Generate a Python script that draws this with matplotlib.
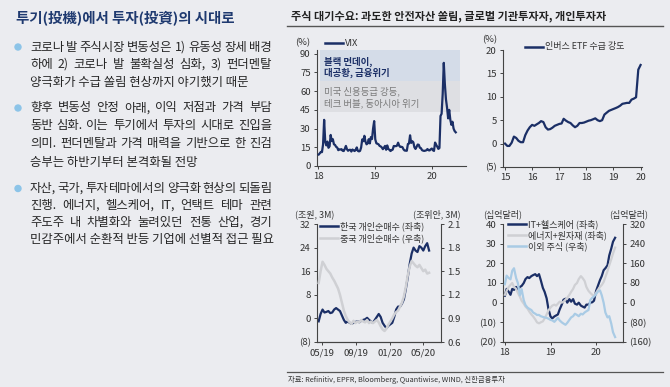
import matplotlib
matplotlib.use("Agg")
import matplotlib.pyplot as plt
from matplotlib.lines import Line2D
from matplotlib.patches import Ellipse, Rectangle
from matplotlib.ticker import FuncFormatter
import pandas as pd

plt.rcParams["font.family"] = ["Noto Sans CJK KR", "DejaVu Sans"]

W, H = 670, 387
BG = "#ebecf0"
NAVY = "#1b2f66"
GRAY_LINE = "#cfd0d4"
LIGHT_BLUE = "#a9cbe5"
TXT = "#333333"

# ---- data -------------------------------------------------------------
title = "투기(投機)에서 투자(投資)의 시대로"
paragraphs = [
    ["코로나 발 주식시장 변동성은 1) 유동성 장세 배경",
     "하에 2) 코로나 발 불확실성 심화, 3) 펀더멘탈",
     "양극화가 수급 쏠림 현상까지 야기했기 때문"],
    ["향후 변동성 안정 아래, 이익 저점과 가격 부담",
     "동반 심화. 이는 투기에서 투자의 시대로 진입을",
     "의미. 펀더멘탈과 가격 매력을 기반으로 한 진검",
     "승부는 하반기부터 본격화될 전망"],
    ["자산, 국가, 투자 테마에서의 양극화 현상의 되돌림",
     "진행. 에너지, 헬스케어, IT, 언택트 테마 관련",
     "주도주 내 차별화와 눌려있던 전통 산업, 경기",
     "민감주에서 순환적 반등 기업에 선별적 접근 필요"],
]
panel_title = "주식 대기수요: 과도한 안전자산 쏠림, 글로벌 기관투자자, 개인투자자"
source = "자료: Refinitiv, EPFR, Bloomberg, Quantiwise, WIND, 신한금융투자"

# VIX, weekly from 2018-01-05
vix = [9.2, 10.2, 11.3, 11.1, 17.3, 37.0, 19.5, 16.5, 19.6, 14.6, 15.8, 24.9, 20.0,
       21.5, 17.4, 16.9, 15.4, 14.8, 12.7, 13.4, 13.2, 13.5, 12.2, 12.0, 13.8, 16.1,
       13.4, 12.2, 12.9, 13.0, 11.6, 13.2, 12.6, 12.0, 12.9, 14.9, 12.1, 11.7, 12.1,
       14.8, 21.3, 19.9, 24.2, 19.5, 17.4, 18.1, 21.5, 18.1, 23.2, 21.6, 30.1, 36.0,
       21.4, 18.2, 17.8, 17.4, 16.1, 15.7, 14.9, 13.5, 14.8, 16.1, 13.0, 16.5, 13.7,
       13.0, 12.0, 12.7, 13.1, 16.0, 16.0, 15.9, 16.3, 18.7, 16.3, 15.3, 15.4, 15.1,
       13.3, 12.4, 12.3, 12.2, 17.6, 18.0, 24.6, 18.5, 19.9, 19.0, 15.0, 13.7, 15.3,
       17.2, 17.0, 14.6, 14.3, 12.7, 12.3, 12.1, 12.3, 12.6, 13.6, 12.6, 12.5, 13.4,
       14.0, 12.6, 12.1, 18.8, 17.0, 15.5, 13.7, 14.4, 40.1, 41.9, 57.8, 82.7, 65.5,
       53.5, 46.8, 38.2, 45.0, 37.2, 33.0, 35.5, 30.0, 28.0, 27.0]

# inverse ETF demand intensity (%), monthly from 2015-01
inverse_etf = [0.0, -0.5, -0.5, 0.2, 1.5, 1.2, 0.6, 0.3, 0.3, 1.8, 2.8, 3.5,
               4.0, 3.8, 4.1, 4.4, 4.8, 4.6, 3.5, 3.0, 3.1, 3.4, 3.8, 4.0,
               4.2, 4.3, 5.3, 4.9, 4.6, 4.4, 3.9, 3.5, 3.8, 4.4, 4.4, 4.5,
               4.7, 4.9, 5.0, 5.2, 5.4, 5.0, 4.8, 5.0, 6.2, 6.6, 7.0, 7.2,
               7.4, 7.6, 7.8, 8.1, 8.5, 8.6, 8.7, 8.7, 9.4, 9.6, 9.9, 15.8, 16.8]

# retail net buying, 3M rolling, weekly from 2019-04-19
korea_retail = [-1.0, 1.5, 3.0, 2.0, 2.2, 2.5, 1.8, 2.0, 3.0, 3.5, 3.0, 2.5, 1.0,
                -0.5, -1.5, -1.0, -1.5, -1.8, -1.5, -1.2, -1.0, -1.3, -0.8, -0.5,
                -0.3, 0.2, -0.5, -1.0, -1.5, -0.5, 0.5, 1.5, 0.5, -1.5, -2.5, -3.3,
                -2.5, -2.0, -1.5, 0.5, 3.0, 4.0, 4.0, 5.0, 6.5, 10.0, 14.0, 18.5,
                22.0, 24.0, 23.0, 22.5, 24.5, 24.0, 23.0, 24.5, 25.5, 23.0]
china_retail = [1.35, 1.50, 1.62, 1.58, 1.53, 1.50, 1.47, 1.42, 1.38, 1.33, 1.28,
                1.20, 1.10, 1.00, 0.93, 0.88, 0.85, 0.83, 0.87, 0.84, 0.86, 0.85,
                0.88, 0.86, 0.85, 0.88, 0.84, 0.86, 0.84, 0.86, 0.88, 0.85, 0.80,
                0.76, 0.74, 0.77, 0.82, 0.86, 0.90, 0.95, 0.98, 1.00, 1.05, 1.10,
                1.18, 1.30, 1.45, 1.56, 1.63, 1.60, 1.57, 1.55, 1.58, 1.54, 1.50,
                1.52, 1.47, 1.48]

# global fund flows (bn USD), semi-monthly from 2018-01-01
it_health = [3.5, 7.0, 5.5, 4.0, 7.0, 6.5, 8.0, 6.5, 8.0, 8.5, 10.0, 12.0, 13.0,
             12.5, 13.5, 14.0, 14.5, 13.5, 14.5, 11.5, 7.5, 5.5, 2.2, -3.0, -7.0,
             -8.0, -7.0, -6.5, -6.0, -3.5, -1.0, 1.5, 2.0, 0.0, 1.8, 0.5, 1.8,
             -0.5, -1.0, 0.0, -1.5, -2.0, -2.5, -1.0, -1.0, 0.0, 0.2, 1.0, 6.0,
             8.5, 11.5, 13.5, 16.5, 17.5, 19.0, 24.0, 27.5, 31.0, 33.0]
energy_materials = [4.0, 6.0, 8.0, 9.0, 10.0, 8.0, 7.0, 5.0, 3.0, 1.0, -0.5, -2.0,
                    -3.0, -4.5, -6.0, -7.0, -8.5, -10.0, -10.5, -10.0, -9.5, -8.0,
                    -6.0, -4.0, -2.5, -1.5, -1.0, -1.5, -0.5, 0.5, 0.0, 0.5, 1.5,
                    2.5, 4.0, 5.5, 7.0, 9.0, 10.0, 12.0, 13.5, 12.5, 11.0, 8.0, 6.0,
                    5.0, 4.0, 3.5, 5.0, 6.5, 8.0, 9.0, 10.5, 13.0, 16.0, 19.0, 22.0,
                    25.0, 28.0]
other_equity = [75, 110, 100, 95, 130, 140, 100, 80, 30, 55, 10, -10, -20, -25,
                -30, -40, -45, -50, -50, -55, -58, -60, -62, -65, -70, -72, -78,
                -70, -62, -72, -80, -85, -90, -82, -70, -60, -55, -45, -50, -55,
                -45, -48, -40, -35, -30, 10, 20, 25, 35, 45, 50, 30, 0, -40, -60,
                -55, -85, -120, -140]

vix_dates = pd.date_range("2018-01-05", periods=len(vix), freq="W-FRI")
etf_dates = pd.date_range("2015-01-01", periods=len(inverse_etf), freq="MS")
retail_dates = pd.date_range("2019-04-19", periods=len(korea_retail), freq="W-FRI")
flow_dates = pd.date_range("2018-01-01", periods=len(it_health), freq="SMS")


# ---- helpers ----------------------------------------------------------
def paren(v, _pos=None):
    return f"({abs(v):g})" if v < 0 else f"{v:g}"


def add_axes_px(fig, left, top, right, bottom):
    return fig.add_axes([left / W, 1 - bottom / H, (right - left) / W, (bottom - top) / H])


def style(ax, right=False):
    ax.set_facecolor("none")
    ax.spines["top"].set_visible(False)
    ax.spines["right"].set_visible(right)
    for side in ("left", "bottom", "right"):
        ax.spines[side].set_color("#444444")
        ax.spines[side].set_linewidth(0.8)
    ax.tick_params(direction="out", length=2.5, width=0.7, pad=2,
                   labelsize=6.9, colors="#444444", labelcolor=TXT)


def ftext(fig, x, y, s, **kw):
    kw.setdefault("va", "center")
    return fig.text(x / W, 1 - y / H, s, **kw)


def legend_entry(fig, x, y, color, label, size=6.5):
    fig.add_artist(Line2D([x / W, (x + 18) / W], [1 - y / H] * 2, color=color, lw=1.8))
    ftext(fig, x + 20, y, label, fontsize=size, color=TXT)


def draw_justified(fig, line, x0, x1, y, justify, **kw):
    if not justify:
        ftext(fig, x0, y, line, **kw)
        return
    renderer = fig.canvas.get_renderer()
    words = line.split(" ")
    texts = [ftext(fig, 0, y, w, **kw) for w in words]
    widths = [t.get_window_extent(renderer).width for t in texts]
    gap = (x1 - x0 - sum(widths)) / (len(words) - 1)
    x = x0
    for t, wd in zip(texts, widths):
        t.set_x(x / W)
        x += wd + gap


# ---- figure -----------------------------------------------------------
fig = plt.figure(figsize=(W / 100, H / 100), dpi=100, facecolor=BG)

# left text block
ftext(fig, 16, 18, title, fontsize=10.4, weight="bold", color="#1f3a70")
line_y = [[47, 64.5, 82], [108, 126, 144, 162], [188.5, 205.5, 222.5, 239.5]]
for para, ys in zip(paragraphs, line_y):
    fig.add_artist(Ellipse((18 / W, 1 - ys[0] / H), 6 / W, 6 / H, color="#8cc4e8"))
    for i, (ln, y) in enumerate(zip(para, ys)):
        draw_justified(fig, ln, 30, 272, y, i < len(para) - 1,
                       fontsize=8.9, weight="medium", color="#262626")

# right panel header / footer
ftext(fig, 291, 16, panel_title, fontsize=8.0, weight="bold", color="#222222")
fig.add_artist(Line2D([287 / W, 663 / W], [1 - 25.5 / H] * 2, color="#555555", lw=1.0))
fig.add_artist(Line2D([287 / W, 663 / W], [1 - 371.5 / H] * 2, color="#555555", lw=0.9))
ftext(fig, 288, 380.5, source, fontsize=5.3, color=TXT)

# chart 1: VIX
ax1 = add_axes_px(fig, 317, 50, 466, 166)
style(ax1)
ax1.add_patch(Rectangle((0.02, 0.733), 0.94, 0.267, transform=ax1.transAxes,
                        color="#d4dce8", lw=0, zorder=0))
ax1.add_patch(Rectangle((0.02, 0.466), 0.94, 0.267, transform=ax1.transAxes,
                        color="#dedfe3", lw=0, zorder=0))
box_kw = dict(transform=ax1.transAxes, fontsize=6.8, va="center")
ax1.text(0.045, 0.899, "블랙 먼데이,", weight="bold", color=NAVY, **box_kw)
ax1.text(0.045, 0.799, "대공황, 금융위기", weight="bold", color=NAVY, **box_kw)
ax1.text(0.045, 0.64, "미국 신용등급 강등,", color="#7a7a7a", **box_kw)
ax1.text(0.045, 0.54, "테크 버블, 동아시아 위기", color="#7a7a7a", **box_kw)
ax1.plot(vix_dates, vix, color=NAVY, lw=1.6, zorder=3)
ax1.set_ylim(0, 93)
ax1.set_yticks([0, 15, 30, 45, 60, 75, 90])
ax1.set_xlim(pd.Timestamp("2017-12-25"), pd.Timestamp("2020-08-10"))
ax1.set_xticks(pd.to_datetime(["2018-01-01", "2019-01-01", "2020-01-01"]))
ax1.set_xticklabels(["18", "19", "20"])
ftext(fig, 303, 43, "(%)", fontsize=6.7, color=TXT, ha="center")
legend_entry(fig, 325, 43, NAVY, "VIX", size=6.7)

# chart 2: inverse ETF
ax2 = add_axes_px(fig, 503, 50, 642, 167)
style(ax2)
ax2.plot(etf_dates, inverse_etf, color=NAVY, lw=1.6)
ax2.set_ylim(-5, 20)
ax2.set_yticks([-5, 0, 5, 10, 15, 20])
ax2.yaxis.set_major_formatter(FuncFormatter(paren))
ax2.set_xlim(pd.Timestamp("2014-12-05"), pd.Timestamp("2020-01-20"))
ax2.set_xticks(pd.to_datetime([f"{y}-01-01" for y in range(2015, 2021)]))
ax2.set_xticklabels([str(y)[2:] for y in range(2015, 2021)])
ftext(fig, 490, 40, "(%)", fontsize=6.7, color=TXT, ha="center")
legend_entry(fig, 525, 47, NAVY, "인버스 ETF 수급 강도")

# chart 3: retail net buying
ax3 = add_axes_px(fig, 317, 224, 441, 342)
style(ax3)
ax3r = ax3.twinx()
style(ax3r, right=True)
ax3r.spines["left"].set_visible(False)
ax3.plot(retail_dates, korea_retail, color=NAVY, lw=1.6, zorder=2)
ax3r.plot(retail_dates, china_retail, color=GRAY_LINE, lw=1.8, zorder=3)
ax3.set_ylim(-8, 32)
ax3.set_yticks([-8, 0, 8, 16, 24, 32])
ax3.yaxis.set_major_formatter(FuncFormatter(paren))
ax3r.set_ylim(0.6, 2.1)
ax3r.set_yticks([0.6, 0.9, 1.2, 1.5, 1.8, 2.1])
ax3r.yaxis.set_major_formatter(FuncFormatter(lambda v, p: f"{v:.1f}"))
ax3.set_xlim(pd.Timestamp("2019-04-13"), pd.Timestamp("2020-07-04"))
ax3.set_xticks(pd.to_datetime(["2019-05-01", "2019-09-01", "2020-01-01", "2020-05-01"]))
ax3.set_xticklabels(["05/19", "09/19", "01/20", "05/20"])
ftext(fig, 315, 214, "(조원, 3M)", fontsize=6.5, color=TXT, ha="center")
ftext(fig, 437, 214, "(조위안, 3M)", fontsize=6.5, color=TXT, ha="center")
legend_entry(fig, 320, 226, NAVY, "한국 개인순매수 (좌축)")
legend_entry(fig, 320, 238, GRAY_LINE, "중국 개인순매수 (우축)")

# chart 4: global fund flows
ax4 = add_axes_px(fig, 503, 224, 623, 342)
style(ax4)
ax4r = ax4.twinx()
style(ax4r, right=True)
ax4r.spines["left"].set_visible(False)
ax4.plot(flow_dates, it_health, color=NAVY, lw=1.6, zorder=2)
ax4.plot(flow_dates, energy_materials, color=GRAY_LINE, lw=1.6, zorder=3)
ax4r.plot(flow_dates, other_equity, color=LIGHT_BLUE, lw=1.6, zorder=4)
ax4.set_ylim(-20, 40)
ax4.set_yticks([-20, -10, 0, 10, 20, 30, 40])
ax4.yaxis.set_major_formatter(FuncFormatter(paren))
ax4r.set_ylim(-160, 320)
ax4r.set_yticks([-160, -80, 0, 80, 160, 240, 320])
ax4r.yaxis.set_major_formatter(FuncFormatter(paren))
ax4.set_xlim(pd.Timestamp("2017-12-17"), pd.Timestamp("2020-08-03"))
ax4.set_xticks(pd.to_datetime(["2018-01-01", "2019-01-01", "2020-01-01"]))
ax4.set_xticklabels(["18", "19", "20"])
ftext(fig, 503, 214, "(십억달러)", fontsize=6.5, color=TXT, ha="center")
ftext(fig, 629, 214, "(십억달러)", fontsize=6.5, color=TXT, ha="center")
legend_entry(fig, 508, 224, NAVY, "IT+헬스케어 (좌축)")
legend_entry(fig, 508, 235, GRAY_LINE, "에너지+원자재 (좌축)")
legend_entry(fig, 508, 246.5, LIGHT_BLUE, "이외 주식 (우축)")

fig.savefig("out.png", dpi=100, facecolor=BG)
